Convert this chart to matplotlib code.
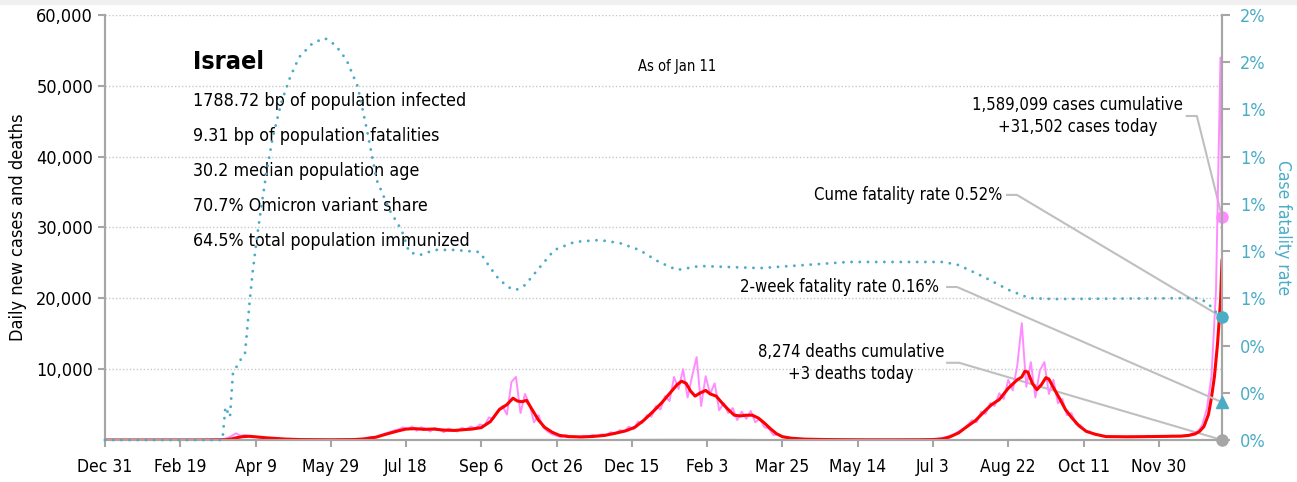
import numpy as np
import pandas as pd
import matplotlib
matplotlib.use('Agg')
import matplotlib.pyplot as plt
from matplotlib import font_manager
from matplotlib.ticker import FuncFormatter, PercentFormatter

START = pd.Timestamp('2019-12-31')

# daily new cases, every third day from Dec 31, last value is today (Jan 11)
case_days = list(range(0, 742, 3)) + [742]
daily_cases = [
    0, 0, 0, 0, 0, 0, 0, 0, 0, 0, 0, 0, 0, 0, 0, 0, 0, 0, 0, 0,
    0, 5, 10, 20, 40, 60,
    120, 250, 550, 950, 600, 700, 550, 450, 380, 300, 280, 200, 170, 130,
    90, 70, 50, 30, 20, 15, 15, 10, 15, 20,
    20, 30, 20, 30, 40, 50, 100, 150, 300, 450, 350, 700, 900, 1100, 1350,
    1500, 1800, 1500, 1900, 1300, 1800, 1600, 1200, 1700, 1500,
    1100, 1600, 1400, 1200, 1700, 1500, 1900, 1600, 2200, 2000, 3200, 3000,
    4200, 4800, 3600, 8200, 8900, 3800, 6500, 5000, 2500, 3500, 1800, 1200, 800,
    600, 400, 700, 450, 550, 350, 600, 500, 700, 550, 800, 700, 1100, 900,
    1400, 1200, 1900, 1500, 2600, 2400, 3500, 3300, 4800, 4300, 6200,
    5500, 8900, 7200, 10000, 6000, 9000, 11700, 4800, 9000, 6500, 8000, 4200,
    5200, 3800, 4500, 2800, 4000, 3000, 4100, 2500, 3000, 1800, 1600, 700, 800,
    400, 300, 200, 250, 120, 150, 80, 100, 50, 70, 40, 50, 30, 40, 20, 30,
    20, 25, 15, 30, 20, 25, 15, 30, 20,
    30, 20, 30, 25, 40, 30, 60, 50, 100, 120, 250, 350, 600, 800, 1200, 1500,
    2100, 2800, 2500, 4000, 3700, 5200, 4800, 6600, 5800,
    8500, 7000, 10500, 16500, 7500, 11000, 6000, 9800, 11000, 6500, 8500, 5200,
    5800, 3500, 3800, 2200, 2100, 1300, 1200, 800, 700, 500, 550, 400, 500,
    450, 400, 550, 450, 500, 400, 600, 450, 550, 500, 450, 600, 550, 500, 650,
    700, 1000, 1200, 2200, 4500, 9000, 21000, 54000,
    31502,
]

# 7-day average of new cases
avg_days = [
    0, 60, 80, 84, 88, 92, 96, 100, 106, 112, 120, 130, 150, 165, 172, 180,
    188, 195, 200, 206, 212, 218, 225, 232, 238, 244, 250, 256, 262, 267, 271,
    274, 277, 280, 284, 288, 292, 297, 302, 308, 317, 324, 332, 340, 346, 352,
    358, 364, 370, 376, 380, 383, 386, 389, 392, 395, 399, 402, 406, 410, 414,
    418, 422, 426, 430, 434, 438, 442, 446, 450, 456, 465, 480, 500, 520, 540,
    550, 556, 561, 567, 572, 578, 585, 589, 594, 600, 606, 609, 611, 613, 616,
    619, 622, 625, 627, 630, 634, 638, 642, 647, 652, 658, 665, 680, 700, 715,
    720, 724, 727, 730, 733, 735, 737, 739, 741, 742,
]
avg_cases = [
    0, 0, 30, 150, 350, 480, 520, 450, 330, 240, 130, 60, 30, 60, 150, 400,
    900, 1300, 1550, 1600, 1500, 1550, 1400, 1350, 1450, 1550, 1750, 2600,
    4300, 5000, 5900, 5500, 5400, 5600, 4200, 2800, 1800, 1100, 650, 480,
    430, 500, 650, 1000, 1300, 1800, 2800, 4000, 5300, 6800, 7800, 8300, 8000,
    6900, 6200, 6600, 7000, 6500, 6200, 5200, 4300, 3500, 3400, 3500, 3500,
    3100, 2400, 1600, 900, 470, 250, 120, 60, 30, 25, 30, 60, 150, 420, 1000,
    1800, 2700, 4200, 5000, 5700, 7300, 8500, 8900, 9700, 9600, 8000, 7100,
    7800, 8800, 8600, 7400, 5900, 4300, 3200, 2000, 1200, 800, 480, 450, 500,
    550, 650, 850, 1200, 1900, 3600, 6000, 9000, 13500, 19500, 25300,
]

# daily deaths (same left scale)
death_days = [0, 80, 100, 130, 200, 260, 290, 330, 380, 410, 450, 500, 560,
              610, 640, 680, 742]
daily_deaths = [0, 5, 10, 2, 10, 30, 35, 20, 60, 50, 10, 1, 5, 30, 15, 5, 3]

# case fatality rate (cumulative deaths / cumulative cases)
cfr_days = [
    0, 78, 80, 83, 85, 90, 93, 94, 96, 98, 101, 103.5, 107.5, 111.5, 117,
    123, 129, 138, 146, 153, 160.5, 168, 174, 180.5, 189, 197, 202, 209, 219,
    232, 249, 255.5, 262, 269, 273, 279, 289, 298.5, 312, 328.5, 342, 355,
    368, 380, 395, 435, 494, 557, 567, 584, 600.5, 614, 630, 726.5, 731.5,
    735, 738.5, 742,
]
cfr = [
    0, 0, 0.0014, 0.00097, 0.00284, 0.00339, 0.00368, 0.00436, 0.0058,
    0.00707, 0.0086, 0.00974, 0.01143, 0.01283, 0.01427, 0.01537, 0.01622,
    0.01681, 0.01702, 0.01673, 0.01609, 0.01495, 0.01313, 0.01101, 0.00974,
    0.00889, 0.00796, 0.00783, 0.00805, 0.00805, 0.00796, 0.00733, 0.00678,
    0.00644, 0.00635, 0.00656, 0.00733, 0.00805, 0.00839, 0.00847, 0.00834,
    0.00805, 0.00754, 0.0072, 0.00737, 0.00728, 0.00754, 0.00754, 0.00741,
    0.0069, 0.00635, 0.00601, 0.00597, 0.00601, 0.00584, 0.00563, 0.00538,
    0.0052,
]

cum_cases = 1589099
today_cases = 31502
cum_deaths = 8274
today_deaths = 3
cume_cfr = 0.0052
two_week_cfr = 0.0016

stats = [
    '1788.72 bp of population infected',
    '9.31 bp of population fatalities',
    '30.2 median population age',
    '70.7% Omicron variant share',
    '64.5% total population immunized',
]

TEAL = '#4bacc6'
PINK = '#ff8cff'
RED = '#ff0000'
GREY = '#a6a6a6'
LEADER = '#bfbfbf'


def pick_narrow_font():
    # prefer a narrow/condensed sans if one is installed
    for f in font_manager.fontManager.ttflist:
        fname = f.fname.lower()
        if ('narrow' in fname or 'condensed' in fname) and 'bold' not in fname \
                and 'italic' not in fname and 'oblique' not in fname and 'mono' not in fname:
            return f.name, f.stretch
    return 'DejaVu Sans', 'normal'


family, stretch = pick_narrow_font()
plt.rcParams['font.family'] = [family, 'DejaVu Sans']
plt.rcParams['font.stretch'] = stretch

fig = plt.figure(figsize=(12.97, 4.82), dpi=100)
fig.patches.append(plt.Rectangle((0, 1 - 4 / 482), 1, 4 / 482, transform=fig.transFigure,
                                 color='#f0f0f0', zorder=0))
ax = fig.add_axes([105 / 1297, 1 - 440 / 482, 1117 / 1297, 425 / 482])
ax2 = ax.twinx()

end = case_days[-1]
ax.plot(case_days, daily_cases, color=PINK, lw=1.4, zorder=2)
ax.plot(avg_days, avg_cases, color=RED, lw=2.2, zorder=3)
ax.plot(death_days, daily_deaths, color=GREY, lw=1.2, zorder=2)
ax.plot(end, today_cases, 'o', color=PINK, ms=8, clip_on=False, zorder=4)
ax.plot(end, today_deaths, 'o', color=GREY, ms=8, clip_on=False, zorder=4)

ax2.plot(cfr_days, cfr, color=TEAL, lw=2.1, linestyle=(0, (0.01, 2.8)),
         dash_capstyle='round', clip_on=False, zorder=3)
ax2.plot(end, cume_cfr, 'o', color=TEAL, ms=8, clip_on=False, zorder=4)
ax2.plot(end, two_week_cfr, '^', color=TEAL, ms=9, clip_on=False, zorder=4)

ax.set_xlim(0, end)
ax.set_ylim(0, 60000)
ax2.set_ylim(0, 0.018)


def day_label(d, pos):
    date = START + pd.Timedelta(days=d)
    return f'{date:%b} {date.day}'


ax.set_xticks(np.arange(0, 701, 50))
ax.xaxis.set_major_formatter(FuncFormatter(day_label))
ax.set_yticks(np.arange(10000, 60001, 10000))
ax.yaxis.set_major_formatter(FuncFormatter(lambda v, pos: f'{int(v):,}'))
ax2.set_yticks(np.arange(0, 0.0181, 0.002))
ax2.yaxis.set_major_formatter(PercentFormatter(xmax=1, decimals=0))

ax.grid(axis='y', color='#c8c8c8', linestyle=(0, (1, 1.5)), lw=1)
for a in (ax, ax2):
    a.spines['top'].set_visible(False)
    for s in ('left', 'right', 'bottom'):
        a.spines[s].set_color(GREY)
        a.spines[s].set_linewidth(1.5)
ax.tick_params(axis='x', colors=GREY, labelcolor='black', labelsize=12.5, length=5, width=1.5, pad=8)
ax.tick_params(axis='y', colors=GREY, labelcolor='black', labelsize=13, length=5, width=1.5)
ax2.tick_params(axis='y', colors=GREY, labelcolor=TEAL, labelsize=13, length=6, width=1.5, pad=7)

ax.set_ylabel('Daily new cases and deaths', fontsize=13)
ax.yaxis.set_label_coords(-0.07, 0.5)
ax2.set_ylabel('Case fatality rate', color=TEAL, fontsize=12.5, rotation=270, va='bottom')
ax2.yaxis.set_label_coords(1.047, 0.5)

ax.text(0.079, 0.889, 'Israel', transform=ax.transAxes, fontsize=18, fontweight='bold', va='center')
for i, line in enumerate(stats):
    ax.text(0.079, 0.798 - i * 0.0825, line, transform=ax.transAxes, fontsize=12.8, va='center')
ax.text(0.512, 0.88, 'As of Jan 11', transform=ax.transAxes, fontsize=10.5, ha='center', va='center')


# labels for today's figures with leader lines to the markers
def leader(axis, text, xy_text, knee, target, ha):
    axis.text(xy_text[0], xy_text[1], text, fontsize=12, ha=ha, va='center',
              multialignment='center', linespacing=1.3)
    axis.plot([knee[0], knee[1], target[0]], [xy_text[1], xy_text[1], target[1]],
              color=LEADER, lw=1.5, clip_on=False, zorder=1)


leader(ax, f'{cum_cases:,} cases cumulative\n+{today_cases:,} cases today',
       (646.3, 45740), (718.6, 725.3), (end, today_cases), 'center')
leader(ax2, f'Cume fatality rate {cume_cfr:.2%}', (595.9, 0.01038),
       (599.2, 605.8), (end, cume_cfr), 'right')
leader(ax2, f'2-week fatality rate {two_week_cfr:.2%}', (554, 0.00648),
       (559.4, 566), (end, two_week_cfr), 'right')
leader(ax, f'{cum_deaths:,} deaths cumulative\n+{today_deaths} deaths today',
       (495.7, 10900), (559.4, 567.4), (end, today_deaths), 'center')

fig.savefig('out.png', dpi=100)
